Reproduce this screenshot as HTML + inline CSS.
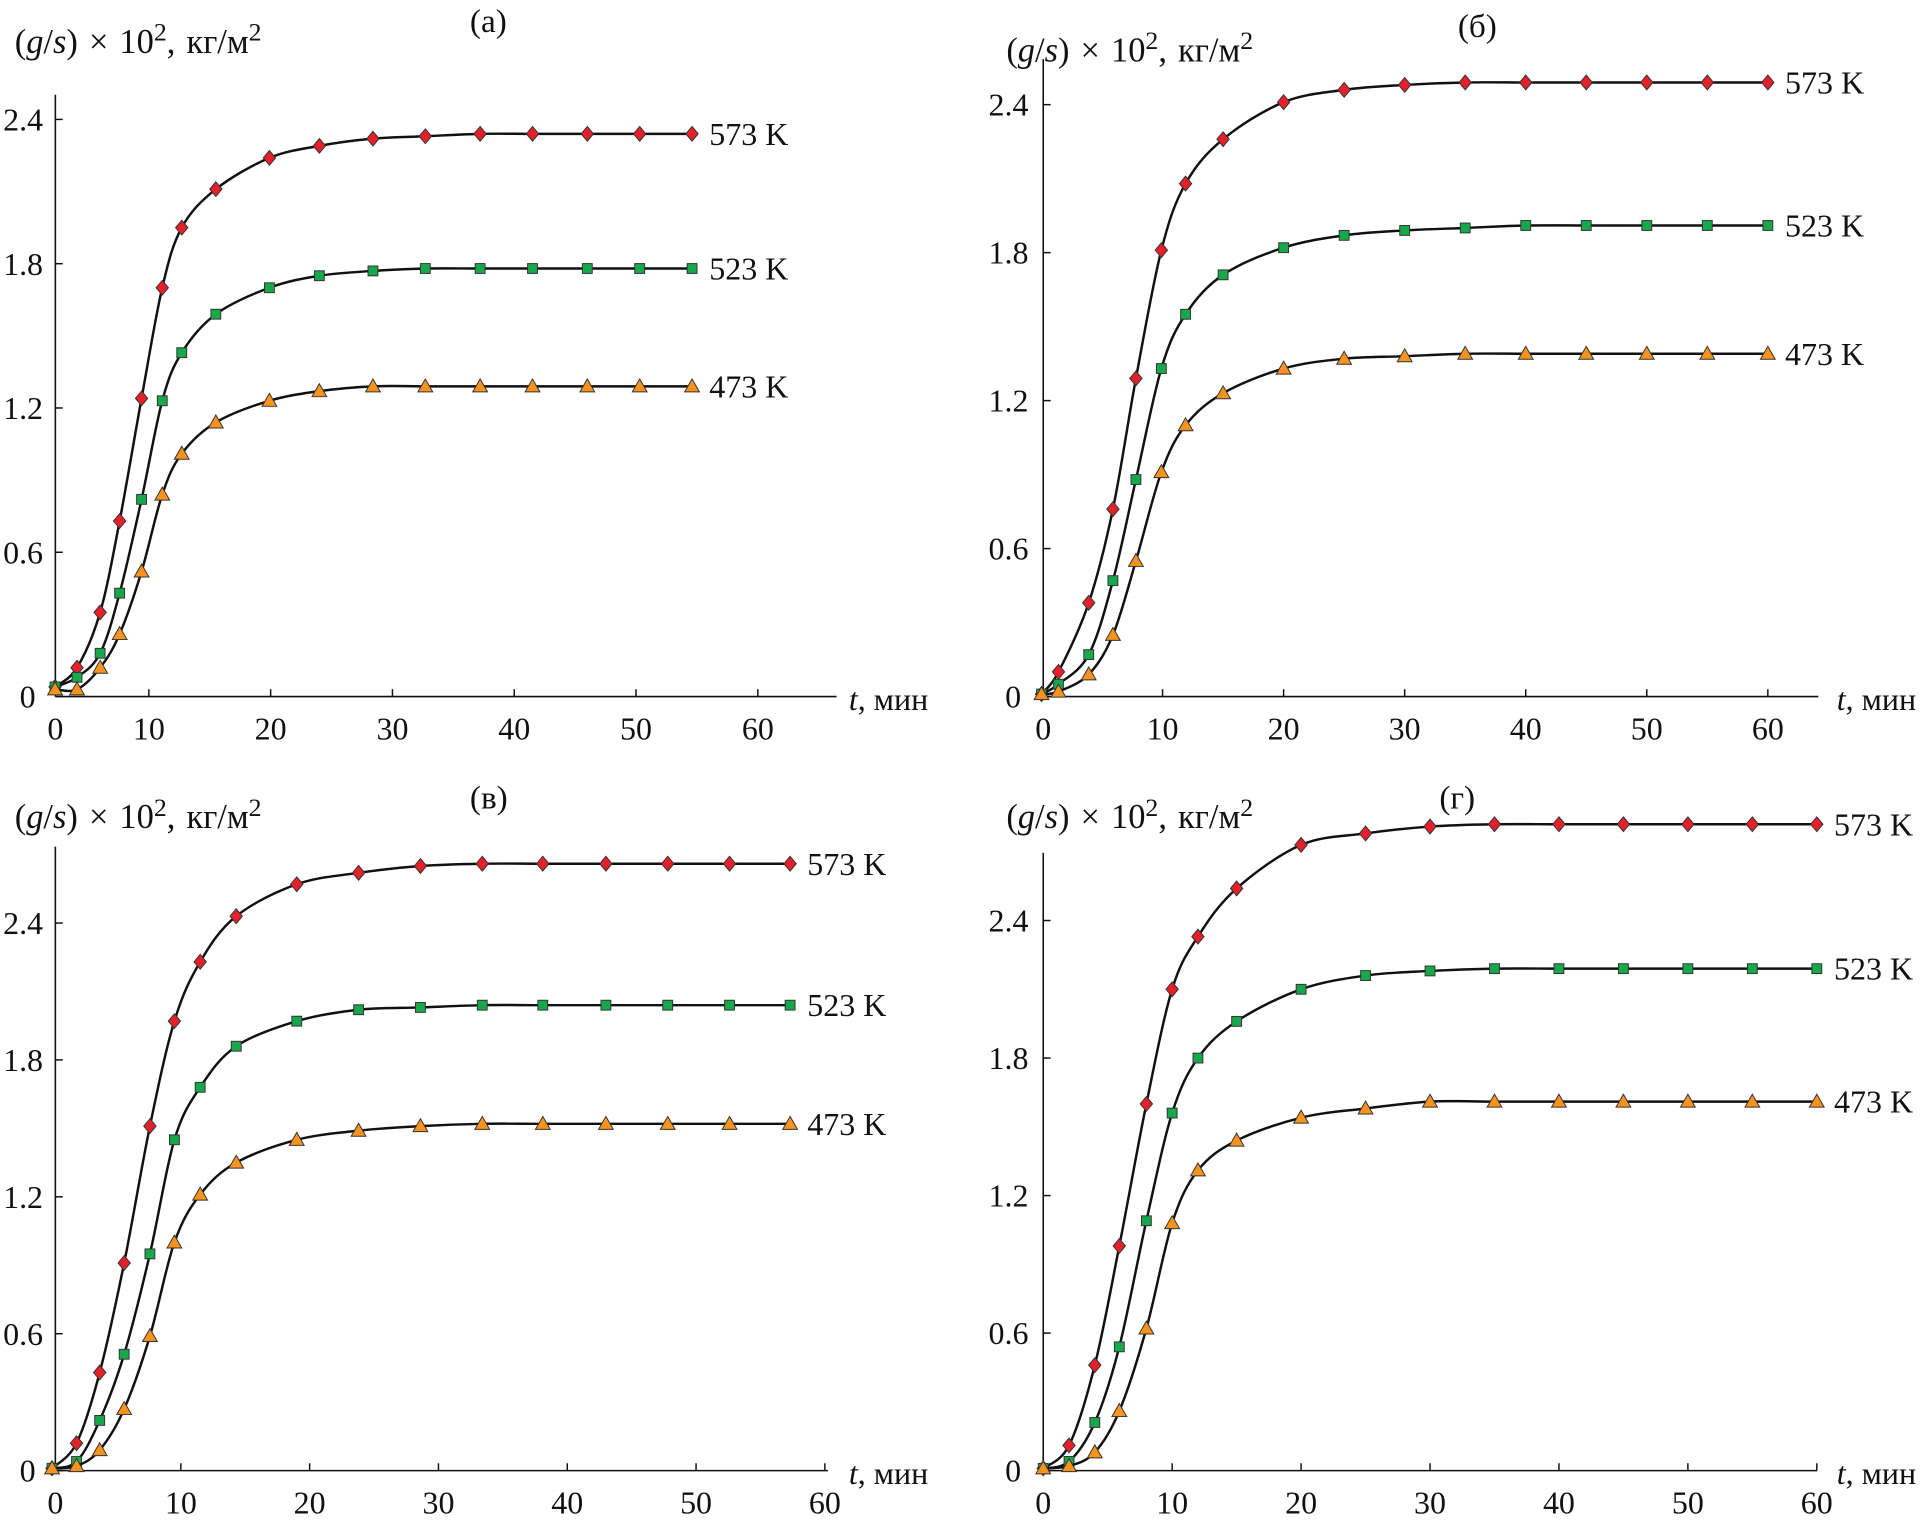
<!DOCTYPE html>
<html><head><meta charset="utf-8"><style>
html,body{margin:0;padding:0;background:#fff}
svg{display:block}
text{font-family:"Liberation Serif",serif;fill:#111}
</style></head><body>
<svg id="fig" width="1929" height="1526" viewBox="0 0 1568 1240" preserveAspectRatio="none" xmlns="http://www.w3.org/2000/svg"></svg>
<script>
// ---- data ----
const aT = [2.3,4.1,6.0,7.6,9.4,11.1,12.7,15.5,19.9,24.0,28.4,32.7,37.2,41.5,46.0,50.3,54.6];
const a573 = [0.04,0.12,0.35,0.73,1.24,1.70,1.95,2.11,2.24,2.29,2.32,2.33,2.34,2.34,2.34,2.34,2.34];
const a523 = [0.04,0.08,0.18,0.43,0.82,1.23,1.43,1.59,1.70,1.75,1.77,1.78,1.78,1.78,1.78,1.78,1.78];
const a473 = [0.03,0.03,0.12,0.26,0.52,0.84,1.01,1.14,1.23,1.27,1.29,1.29,1.29,1.29,1.29,1.29,1.29];
const bT = [0,1.4,3.9,5.9,7.8,9.9,11.9,15,20,25,30,35,40,45,50,55,60];
const b573 = [0.01,0.10,0.38,0.76,1.29,1.81,2.08,2.26,2.41,2.46,2.48,2.49,2.49,2.49,2.49,2.49,2.49];
const b523 = [0.01,0.05,0.17,0.47,0.88,1.33,1.55,1.71,1.82,1.87,1.89,1.90,1.91,1.91,1.91,1.91,1.91];
const b473 = [0.01,0.02,0.09,0.25,0.55,0.91,1.10,1.23,1.33,1.37,1.38,1.39,1.39,1.39,1.39,1.39,1.39];
const cT = [0,1.9,3.7,5.6,7.6,9.5,11.5,14.3,19,23.8,28.6,33.4,38.1,43,47.8,52.6,57.3];
const c573 = [0.01,0.12,0.43,0.91,1.51,1.97,2.23,2.43,2.57,2.62,2.65,2.66,2.66,2.66,2.66,2.66,2.66];
const c523 = [0.01,0.04,0.22,0.51,0.95,1.45,1.68,1.86,1.97,2.02,2.03,2.04,2.04,2.04,2.04,2.04,2.04];
const c473 = [0.01,0.02,0.09,0.27,0.59,1.00,1.21,1.35,1.45,1.49,1.51,1.52,1.52,1.52,1.52,1.52,1.52];
const dT = [0,2,4,5.9,8,10,12,15,20,25,30,35,40,45,50,55,60];
const d573 = [0.01,0.11,0.46,0.98,1.60,2.10,2.33,2.54,2.73,2.78,2.81,2.82,2.82,2.82,2.82,2.82,2.82];
const d523 = [0.01,0.04,0.21,0.54,1.09,1.56,1.80,1.96,2.10,2.16,2.18,2.19,2.19,2.19,2.19,2.19,2.19];
const d473 = [0.01,0.02,0.08,0.26,0.62,1.08,1.31,1.44,1.54,1.58,1.61,1.61,1.61,1.61,1.61,1.61,1.61];
const xTicks = [0,10,20,30,40,50,60];
const yTicks = [0,0.6,1.2,1.8,2.4];
const yTickLabels = ["0","0.6","1.2","1.8","2.4"];
const seriesNames = ["573 K","523 K","473 K"];

const NS="http://www.w3.org/2000/svg";
const svg=document.getElementById('fig');
function mk(tag,attrs,parent){const e=document.createElementNS(NS,tag);for(const k in attrs)e.setAttribute(k,attrs[k]);(parent||svg).appendChild(e);return e;}

const panels=[
 {id:'a',letter:'(а)',t:aT,s:[a573,a523,a473],ax:45,x10:121,pxPer:9.9,tmin:2.3,y0:566,pyPer:195.4,top:77,xEnd:680,lx:382,ly:26,tx:12,ty:43,yl:35,xl:690,xly:577},
 {id:'b',letter:'(б)',t:bT,s:[b573,b523,b473],ax:848,x10:945,pxPer:9.84,tmin:0,y0:566,pyPer:200.4,top:48,xEnd:1478,lx:1185,ly:30,tx:818,ty:50,yl:836,xl:1493,xly:577},
 {id:'c',letter:'(в)',t:cT,s:[c573,c523,c473],ax:45,x10:147,pxPer:10.47,tmin:0,y0:1195,pyPer:185.4,top:688,xEnd:673,lx:382,ly:657,tx:12,ty:673,yl:35,xl:690,xly:1206},
 {id:'d',letter:'(г)',t:dT,s:[d573,d523,d473],ax:848,x10:952.8,pxPer:10.48,tmin:0,y0:1195,pyPer:186.25,top:693,xEnd:1477,lx:1170,ly:657,tx:818,ty:673,yl:836,xl:1493,xly:1206}
];
const colors=['#e3212b','#18a84c','#f7931e'];

function pathThrough(pts){
  let d=`M${pts[0][0]},${pts[0][1]}`;
  for(let i=0;i<pts.length-1;i++){
    const p0=pts[i-1]||pts[i],p1=pts[i],p2=pts[i+1],p3=pts[i+2]||p2;
    const c1=[p1[0]+(p2[0]-p0[0])/6,p1[1]+(p2[1]-p0[1])/6];
    const c2=[p2[0]-(p3[0]-p1[0])/6,p2[1]-(p3[1]-p1[1])/6];
    d+=` C${c1[0]},${c1[1]} ${c2[0]},${c2[1]} ${p2[0]},${p2[1]}`;
  }
  return d;
}

panels.forEach(P=>{
  const g=mk('g',{});
  
  
  const xs=t=>P.x10+(t-10)*P.pxPer;
  const ys=v=>P.y0-v*P.pyPer;
  const ya=mk('line',{x1:P.ax,y1:P.top,x2:P.ax,y2:P.y0,stroke:'#111','stroke-width':1.3},g);
  
  
  const xa=mk('line',{x1:P.ax,y1:P.y0,x2:P.xEnd,y2:P.y0,stroke:'#111','stroke-width':1.3},g);
  
  
  xTicks.forEach(t=>{
    const xx=t<=P.tmin?P.ax:xs(t);
    mk('line',{x1:xx,y1:P.y0,x2:xx,y2:P.y0-6,stroke:'#111','stroke-width':1.2},g);
    const tl=mk('text',{x:xx,y:P.y0+35,'font-size':26,'text-anchor':'middle'},g);
    tl.textContent=t;
    
    
  });
  yTicks.forEach((v,i)=>{
    const y=ys(v);
    mk('line',{x1:P.ax,y1:y,x2:P.ax+6,y2:y,stroke:'#111','stroke-width':1.2},g);
    const tl=mk('text',{x:P.yl+(i===0?-6:0),y:y+9,'font-size':26,'text-anchor':'end'},g);
    tl.textContent=yTickLabels[i];
    
    
  });
  const yt=mk('text',{x:P.tx,y:P.ty,'font-size':28,'word-spacing':2},g);
  yt.innerHTML='(<tspan font-style="italic">g</tspan>/<tspan font-style="italic">s</tspan>) × 10<tspan dy="-10" font-size="21">2</tspan><tspan dy="10">, кг/м</tspan><tspan dy="-10" font-size="21">2</tspan>';
  
  
  const xt=mk('text',{x:P.xl,y:P.xly,'font-size':26},g);
  xt.innerHTML='<tspan font-style="italic">t</tspan>, мин';
  
  
  const lt=mk('text',{x:P.lx,y:P.ly,'font-size':27},g);
  lt.textContent=P.letter;
  
  
  P.s.forEach((vals,si)=>{
    const pts=vals.map((v,i)=>[xs(P.t[i]),ys(v)]);
    const ln=mk('path',{d:pathThrough(pts),fill:'none',stroke:'#111','stroke-width':2},g);
    
    
    pts.forEach(([x,y])=>{
      let m;
      if(si===0) m=mk('polygon',{points:`${x},${y-6} ${x+5},${y} ${x},${y+6} ${x-5},${y}`,fill:colors[0],stroke:'#333','stroke-width':0.8},g);
      else if(si===1) m=mk('rect',{x:x-4,y:y-4,width:8,height:8,fill:colors[1],stroke:'#333','stroke-width':0.8},g);
      else m=mk('polygon',{points:`${x},${y-6} ${x+6},${y+4.5} ${x-6},${y+4.5}`,fill:colors[2],stroke:'#333','stroke-width':0.8},g);
      
      
    });
    const last=pts[pts.length-1];
    const sl=mk('text',{x:last[0]+14,y:last[1]+9,'font-size':26},g);
    sl.textContent=seriesNames[si];
    
    
  });
});
</script>
</body></html>
